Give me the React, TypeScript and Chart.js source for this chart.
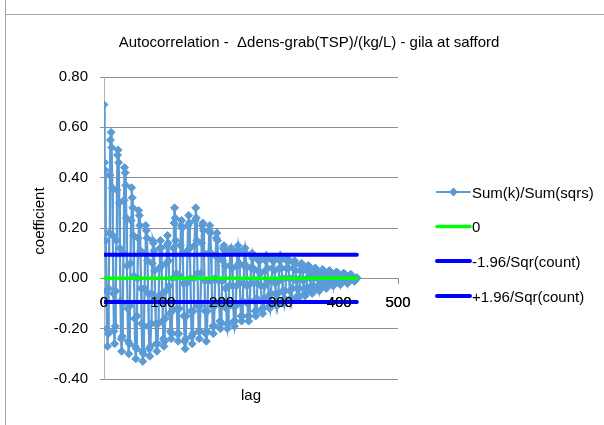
import React, { useEffect, useRef } from "react";
import { Chart, registerables } from "chart.js";

Chart.register(...registerables);

// ---------- data ----------
const chartTitle = "Autocorrelation -  \u0394dens-grab(TSP)/(kg/L) - gila at safford";
const xAxisTitle = "lag";
const yAxisTitle = "coefficient";
const seriesNames = ["Sum(k)/Sum(sqrs)", "0", "-1.96/Sqr(count)", "+1.96/Sqr(count)"];

// autocorrelation coefficient for lag 0..430
const acfValues = [
  0.69, 0.46, 0.43, 0.15, -0.05, -0.20, -0.27, -0.22, -0.04, 0.18, 0.41, 0.55,
  0.58, 0.52, 0.36, 0.17, -0.06, -0.21, -0.26, -0.19, -0.05, 0.15, 0.35, 0.49,
  0.51, 0.46, 0.30, 0.12, -0.09, -0.24, -0.29, -0.23, -0.10, 0.10, 0.31, 0.44,
  0.42, 0.37, 0.24, 0.05, -0.12, -0.25, -0.30, -0.26, -0.11, 0.06, 0.23, 0.36,
  0.32, 0.28, 0.17, 0.01, -0.16, -0.27, -0.32, -0.28, -0.15, 0.00, 0.16, 0.27,
  0.25, 0.21, 0.11, -0.04, -0.18, -0.29, -0.33, -0.30, -0.19, -0.04, 0.10, 0.21,
  0.19, 0.16, 0.07, -0.06, -0.19, -0.28, -0.31, -0.27, -0.18, -0.06, 0.06, 0.15,
  0.14, 0.11, 0.03, -0.08, -0.18, -0.26, -0.29, -0.26, -0.18, -0.07, 0.04, 0.12,
  0.15, 0.12, 0.05, -0.06, -0.17, -0.24, -0.27, -0.25, -0.16, -0.05, 0.06, 0.13,
  0.17, 0.14, 0.07, -0.03, -0.14, -0.21, -0.24, -0.22, -0.13, 0.00, 0.12, 0.22,
  0.28, 0.24, 0.15, 0.02, -0.12, -0.22, -0.25, -0.22, -0.12, 0.01, 0.13, 0.21,
  0.23, 0.20, 0.10, -0.02, -0.15, -0.25, -0.28, -0.24, -0.15, -0.02, 0.11, 0.21,
  0.25, 0.22, 0.12, 0.00, -0.13, -0.23, -0.26, -0.22, -0.13, 0.00, 0.13, 0.23,
  0.28, 0.24, 0.15, 0.02, -0.11, -0.21, -0.24, -0.21, -0.11, 0.02, 0.14, 0.21,
  0.22, 0.19, 0.10, -0.01, -0.13, -0.22, -0.25, -0.21, -0.13, -0.01, 0.10, 0.19,
  0.21, 0.18, 0.10, -0.01, -0.11, -0.19, -0.22, -0.19, -0.11, 0.00, 0.09, 0.16,
  0.18, 0.15, 0.08, -0.01, -0.10, -0.17, -0.20, -0.18, -0.11, -0.01, 0.07, 0.12,
  0.13, 0.11, 0.05, -0.04, -0.12, -0.18, -0.20, -0.18, -0.11, -0.03, 0.05, 0.11,
  0.12, 0.10, 0.04, -0.03, -0.11, -0.17, -0.19, -0.17, -0.11, -0.03, 0.05, 0.11,
  0.13, 0.11, 0.06, -0.02, -0.10, -0.15, -0.17, -0.15, -0.09, -0.02, 0.05, 0.10,
  0.12, 0.10, 0.05, -0.03, -0.10, -0.15, -0.17, -0.15, -0.09, -0.02, 0.04, 0.09,
  0.10, 0.08, 0.04, -0.02, -0.09, -0.13, -0.15, -0.13, -0.08, -0.02, 0.03, 0.07,
  0.08, 0.07, 0.02, -0.03, -0.09, -0.12, -0.14, -0.12, -0.08, -0.03, 0.03, 0.07,
  0.09, 0.08, 0.04, -0.01, -0.07, -0.11, -0.12, -0.10, -0.06, -0.01, 0.04, 0.07,
  0.08, 0.07, 0.03, -0.02, -0.06, -0.10, -0.11, -0.10, -0.06, -0.01, 0.04, 0.07,
  0.09, 0.08, 0.04, 0.00, -0.05, -0.09, -0.10, -0.08, -0.05, 0.00, 0.04, 0.07,
  0.08, 0.07, 0.04, 0.00, -0.05, -0.08, -0.09, -0.08, -0.04, 0.00, 0.04, 0.06,
  0.07, 0.06, 0.03, -0.01, -0.04, -0.07, -0.08, -0.07, -0.04, 0.00, 0.03, 0.05,
  0.06, 0.05, 0.03, -0.01, -0.04, -0.06, -0.07, -0.06, -0.04, 0.00, 0.03, 0.05,
  0.05, 0.04, 0.02, 0.00, -0.03, -0.05, -0.06, -0.05, -0.03, 0.00, 0.02, 0.04,
  0.04, 0.03, 0.02, 0.00, -0.03, -0.04, -0.05, -0.04, -0.02, 0.00, 0.02, 0.03,
  0.035, 0.03, 0.015, 0.00, -0.02, -0.035, -0.04, -0.03, -0.02, 0.00, 0.015, 0.03,
  0.03, 0.025, 0.015, 0.00, -0.015, -0.025, -0.03, -0.025, -0.015, 0.00, 0.015, 0.025,
  0.025, 0.02, 0.012, 0.00, -0.012, -0.02, -0.025, -0.02, -0.01, 0.00, 0.012, 0.02,
  0.02, 0.017, 0.01, 0.00, -0.01, -0.017, -0.02, -0.017, -0.01, 0.00, 0.01, 0.015,
  0.015, 0.012, 0.007, 0.00, -0.006, -0.01, -0.012, -0.008, -0.004, 0.00, 0.003,
];

const refLineLags = [0, 430];
const zeroValues = [0, 0];
const lowerBandValues = [-0.094, -0.094];
const upperBandValues = [0.094, 0.094];

const xMin = 0, xMax = 500, xStep = 100;
const yMin = -0.4, yMax = 0.8, yStep = 0.2;

// ---------- style ----------
const FONT = '"Liberation Sans", Arial, sans-serif';
const SERIES_COLOR = "#5B9BD5";
const ZERO_COLOR = "#00FF00";
const BAND_COLOR = "#0000FF";
const GRID_COLOR = "#8e8e8e";
const FRAME_COLOR = "#a6a6a6";

const decorPlugin = {
  id: "decor",
  afterDatasetsDraw(chart: any) {
    // Excel draws the category labels above the plotted series
    const xScale = chart.scales.x;
    if (xScale) xScale.drawLabels(chart.chartArea);
  },
  afterDraw(chart: any) {
    const ctx = chart.ctx as CanvasRenderingContext2D;
    const area = chart.chartArea;
    ctx.save();
    // chart frame
    ctx.strokeStyle = FRAME_COLOR;
    ctx.lineWidth = 1;
    ctx.beginPath();
    ctx.moveTo(5.5, 0);
    ctx.lineTo(5.5, 425);
    ctx.moveTo(5.5, 14.5);
    ctx.lineTo(604, 14.5);
    ctx.stroke();

    ctx.fillStyle = "#000";
    ctx.font = `15px ${FONT}`;
    ctx.textBaseline = "alphabetic";
    // title
    ctx.textAlign = "center";
    ctx.fillText(chartTitle, 309, 47);
    // x axis title
    ctx.fillText(xAxisTitle, (area.left + area.right) / 2, 400);
    // y axis title
    ctx.save();
    ctx.translate(44, 221);
    ctx.rotate(-Math.PI / 2);
    ctx.fillText(yAxisTitle, 0, 0);
    ctx.restore();

    // legend
    const rows = [192, 226.5, 261, 296];
    const colors = [SERIES_COLOR, ZERO_COLOR, BAND_COLOR, BAND_COLOR];
    const widths = [2, 3.5, 4, 4];
    ctx.textAlign = "left";
    ctx.lineCap = "round";
    rows.forEach((y, i) => {
      ctx.strokeStyle = colors[i];
      ctx.lineWidth = widths[i];
      ctx.beginPath();
      ctx.moveTo(437, y);
      ctx.lineTo(470, y);
      ctx.stroke();
      if (i === 0) {
        ctx.fillStyle = SERIES_COLOR;
        ctx.beginPath();
        ctx.moveTo(453.5, y - 4.5);
        ctx.lineTo(458, y);
        ctx.lineTo(453.5, y + 4.5);
        ctx.lineTo(449, y);
        ctx.closePath();
        ctx.fill();
      }
      ctx.fillStyle = "#000";
      ctx.fillText(seriesNames[i], 472, y + 5.5);
    });
    ctx.restore();
  },
};

export default function App() {
  const canvasRef = useRef<HTMLCanvasElement | null>(null);

  useEffect(() => {
    const canvas = canvasRef.current;
    if (!canvas) return;
    Chart.defaults.font.family = FONT;
    Chart.defaults.font.size = 15;
    Chart.defaults.color = "#000";

    const seriesData = acfValues.map((v, i) => ({ x: i, y: v }));
    const refData = (vals: number[]) => refLineLags.map((x, i) => ({ x, y: vals[i] }));

    const chart = new Chart(canvas, {
      type: "line",
      data: {
        datasets: [
          {
            label: seriesNames[0],
            data: seriesData,
            borderColor: SERIES_COLOR,
            backgroundColor: SERIES_COLOR,
            borderWidth: 2.25,
            pointStyle: "rectRot",
            pointRadius: 4,
            pointBorderWidth: 1,
            pointBackgroundColor: SERIES_COLOR,
            pointBorderColor: SERIES_COLOR,
            order: 3,
          },
          {
            label: seriesNames[1],
            data: refData(zeroValues),
            borderColor: ZERO_COLOR,
            borderWidth: 3.5,
            pointRadius: 0,
            borderCapStyle: "round",
            order: 2,
          },
          {
            label: seriesNames[2],
            data: refData(lowerBandValues),
            borderColor: BAND_COLOR,
            borderWidth: 4,
            pointRadius: 0,
            borderCapStyle: "round",
            order: 1,
          },
          {
            label: seriesNames[3],
            data: refData(upperBandValues),
            borderColor: BAND_COLOR,
            borderWidth: 4,
            pointRadius: 0,
            borderCapStyle: "round",
            order: 1,
          },
        ],
      },
      options: {
        responsive: false,
        animation: false,
        devicePixelRatio: 1,
        layout: { padding: { left: 0, top: 77, right: 206, bottom: 46 } },
        plugins: {
          legend: { display: false },
          title: { display: false },
          tooltip: { enabled: false },
        },
        scales: {
          x: {
            type: "linear",
            position: { y: 0 },
            min: xMin,
            max: xMax,
            ticks: { stepSize: xStep, padding: 11, maxRotation: 0, autoSkip: false, color: "#000", font: { size: 15 } },
            grid: { drawOnChartArea: false, drawTicks: true, tickLength: 5, color: GRID_COLOR },
            border: { display: true, color: GRID_COLOR },
          },
          y: {
            type: "linear",
            position: "left",
            min: yMin,
            max: yMax,
            ticks: {
              stepSize: yStep,
              padding: 12,
              color: "#000",
              font: { size: 15 },
              callback: (v: any) => (Math.abs(Number(v)) < 1e-9 ? "0.00" : Number(v).toFixed(2)),
            },
            grid: { color: GRID_COLOR, tickLength: 4 },
            border: { display: true, color: "#b4b4b4" },
            afterFit: (scale: any) => {
              scale.width = 104;
            },
          },
        },
      } as any,
      plugins: [decorPlugin],
    });
    return () => chart.destroy();
  }, []);

  return (
    <div style={{ position: "fixed", left: 0, top: 0, width: 604, height: 425, background: "#fff" }}>
      <canvas ref={canvasRef} width={604} height={425} style={{ display: "block", width: 604, height: 425 }} />
    </div>
  );
}
